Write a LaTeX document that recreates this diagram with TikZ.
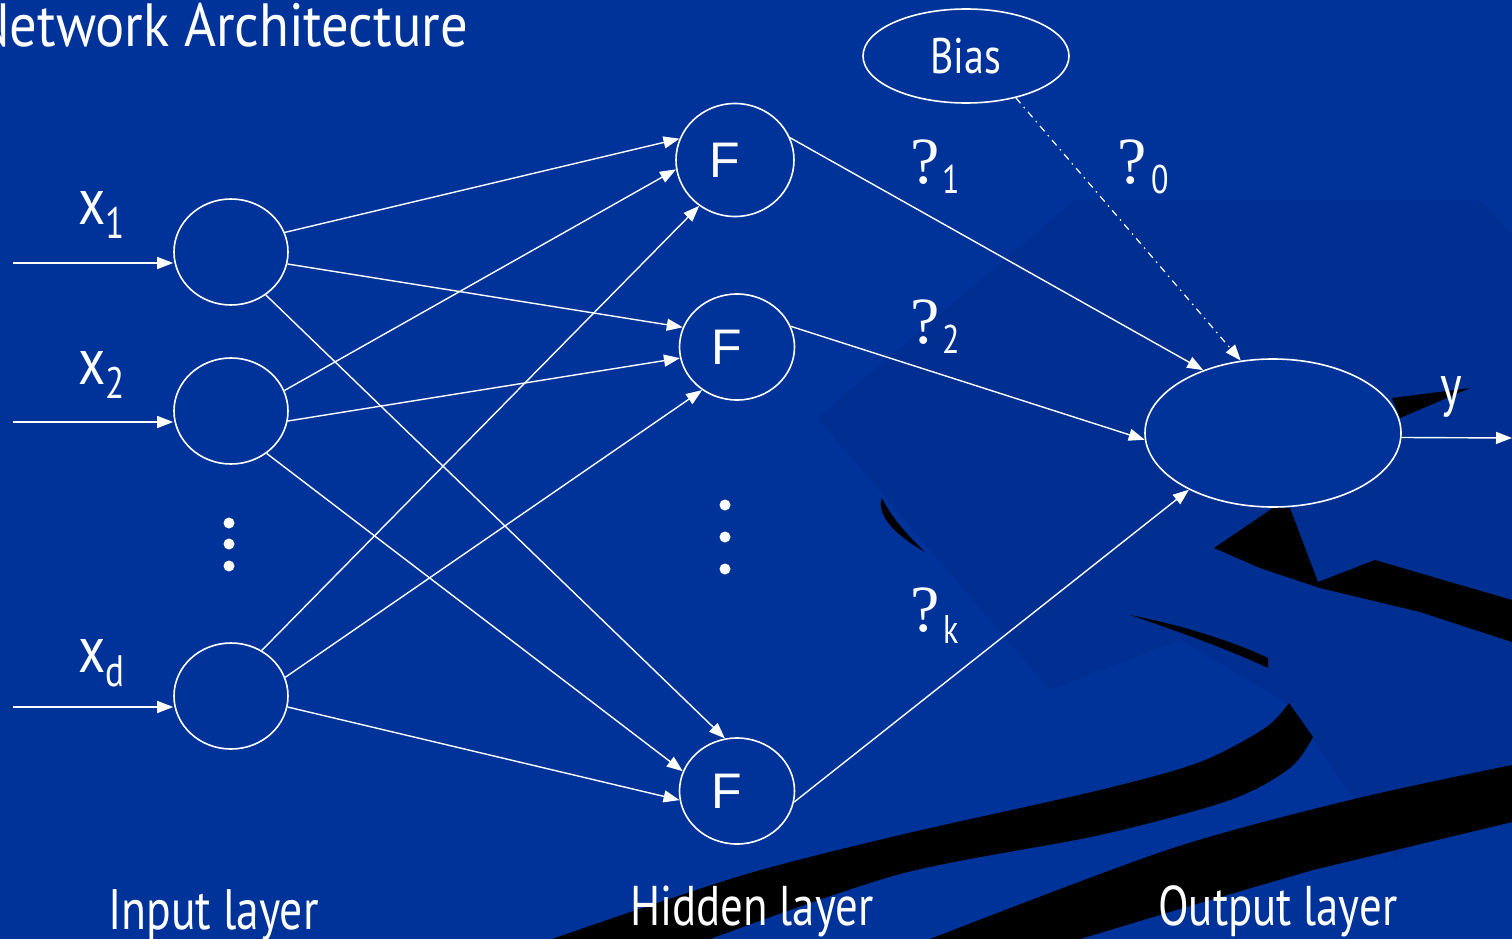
\documentclass[tikz,border=0pt]{standalone}
\usepackage{fontspec}
\setmainfont{PT Sans}
\newfontfamily\cnd[FakeStretch=0.8]{PT Sans}
\newfontfamily\ttl[FakeStretch=0.895]{PT Sans}
\newfontfamily\arl{Liberation Sans}
\newfontfamily\srf{Liberation Serif}
\usetikzlibrary{shapes.geometric,arrows.meta}
\definecolor{bg}{RGB}{0,51,153}
\definecolor{dk}{RGB}{0,47,145}
\begin{document}
\begin{tikzpicture}[x=1pt,y=-1pt,
  neuron/.style={ellipse,draw=white,line width=1.6pt,inner sep=0pt,text=white},
  conn/.style={white,line width=1.4pt,-{Triangle[length=16pt,width=12pt]}},
  lbl/.style={text=white,inner sep=0pt},
  dotmark/.style={white},
]
\useasboundingbox (0,0) rectangle (1512,939);
\clip (0,0) rectangle (1512,939);
\fill[bg] (0,0) rectangle (1512,939);
% decorative background
\fill[dk] (817,418) -- (1075,200) -- (1480,200) -- (1512,235) -- (1512,760) -- (1395,860) -- (1290,705) -- (1180,640) -- (1050,690) -- cycle;
\fill[black] plot[smooth] coordinates {(552,939) (740,876) (900,835) (1100,790) (1200,762) (1265,728) (1289,703)}
  -- plot[smooth] coordinates {(1313,737) (1290,768) (1230,800) (1100,835) (900,874) (710,939)} -- cycle;
\fill[black] plot[smooth] coordinates {(930,939) (1167,850) (1350,800) (1512,765)}
  -- (1512,822) -- plot[smooth] coordinates {(1313,870) (1200,903) (1080,939)} -- cycle;
\fill[black] (1214,548) -- (1273,508) -- (1290,508) -- (1318,582) -- (1375,560) -- (1450,582) -- (1512,600) -- (1512,642) -- (1420,612) -- (1320,588) -- (1260,568) -- cycle;
\fill[black] (1392,398) -- (1470,388) -- (1400,418) -- cycle;
\fill[black] (882,498) .. controls (876,515) and (895,535) .. (925,552) .. controls (905,533) and (890,515) .. (882,498) -- cycle;
\fill[black] (1130,615) .. controls (1180,625) and (1230,640) .. (1268,658) -- (1268,668) .. controls (1230,650) and (1180,632) .. (1130,615) -- cycle;

% title
\node[lbl,anchor=base east] (title) at (468,47) {\ttl\fontsize{61}{61}\selectfont Network Architecture};

% input layer
\node[neuron,minimum width=114pt,minimum height=106pt] (i1) at (231,252) {};
\node[neuron,minimum width=114pt,minimum height=106pt] (i2) at (231,411) {};
\node[neuron,minimum width=114pt,minimum height=106pt] (i3) at (231,696) {};
% hidden layer
\node[neuron,minimum width=118pt,minimum height=113pt] (h1) at (735,160) {\arl\fontsize{50}{50}\selectfont F\hspace*{20pt}};
\node[neuron,minimum width=115pt,minimum height=106pt] (h2) at (737,347) {\arl\fontsize{50}{50}\selectfont F\hspace*{20pt}};
\node[neuron,minimum width=115pt,minimum height=106pt] (h3) at (737,791) {\arl\fontsize{50}{50}\selectfont F\hspace*{20pt}};
% output and bias
\node[neuron,fill=bg,minimum width=256pt,minimum height=148pt] (out) at (1273,433) {};
\node[neuron,fill=bg,minimum width=206pt,minimum height=94pt] (bias) at (966,56) {\cnd\fontsize{50}{50}\selectfont Bias};

% input arrows
\coordinate (s1) at (13,263);
\coordinate (s2) at (13,422);
\coordinate (s3) at (13,707);
\coordinate (yend) at (1512,438);
\draw[conn] (s1) -- (i1.west |- s1);
\draw[conn] (s2) -- (i2.west |- s2);
\draw[conn] (s3) -- (i3.west |- s3);

% input -> hidden
\draw[conn] (i1.20) -- (h1.159);
\draw[conn] (i1.-12) -- (h2.160);
\draw[conn] (i1.-51) -- (h3.103);
\draw[conn] (i2.21) -- (h1.189);
\draw[conn] (i2.-10) -- (h2.191);
\draw[conn] (i2.-50) -- (h3.160);
\draw[conn] (i3.56) -- (h1.232);
\draw[conn] (i3.19) -- (h2.231);
\draw[conn] (i3.-11) -- (h3.189);
% hidden -> output
\draw[conn] (h1.22) -- (out.138);
\draw[conn] (h2.21) -- (out.183);
\draw[conn] (h3.-11) -- (out.214);
\draw[conn,line width=1.2pt,dash pattern=on 7pt off 5pt on 1.5pt off 5pt] (bias.-40) -- (out.114);
\draw[conn] (out.-2) -- (yend);

% dots
\fill[dotmark] (229,523) circle (5.5pt) (229,544) circle (5.5pt) (229,566) circle (5.5pt);
\fill[dotmark] (725,505) circle (5.5pt) (725,537) circle (5.5pt) (725,569) circle (5.5pt);

% input labels
\node[lbl,anchor=base west] (lx1) at (78,224) {\cnd\fontsize{66}{66}\selectfont x\raisebox{-14pt}{\fontsize{44}{44}\selectfont 1}};
\node[lbl,anchor=base west] (lx2) at (78,384) {\cnd\fontsize{66}{66}\selectfont x\raisebox{-14pt}{\fontsize{44}{44}\selectfont 2}};
\node[lbl,anchor=base west] (lxd) at (78,672) {\cnd\fontsize{66}{66}\selectfont x\raisebox{-14pt}{\fontsize{44}{44}\selectfont d}};
\node[lbl,anchor=base west] (ly) at (1440,405) {\cnd\fontsize{58}{58}\selectfont y};

% weight labels
\node[lbl,anchor=base west] (q1) at (910,183) {\srf\fontsize{66}{66}\selectfont ?};
\node[lbl,anchor=base west] (n1) at (942,193) {\cnd\fontsize{40}{40}\selectfont 1};
\node[lbl,anchor=base west] (q2) at (910,343) {\srf\fontsize{66}{66}\selectfont ?};
\node[lbl,anchor=base west] (n2) at (942,353) {\cnd\fontsize{40}{40}\selectfont 2};
\node[lbl,anchor=base west] (qk) at (910,631) {\srf\fontsize{66}{66}\selectfont ?};
\node[lbl,anchor=base west] (nk) at (943,643) {\cnd\fontsize{40}{40}\selectfont k};
\node[lbl,anchor=base west] (q0) at (1117,183) {\srf\fontsize{66}{66}\selectfont ?};
\node[lbl,anchor=base west] (n0) at (1151,193) {\cnd\fontsize{40}{40}\selectfont 0};

% layer labels
\node[lbl,anchor=base west] (lin) at (108,929) {\cnd\fontsize{57}{57}\selectfont Input layer};
\node[lbl,anchor=base west] (lhid) at (630,925) {\cnd\fontsize{56}{56}\selectfont Hidden layer};
\node[lbl,anchor=base west] (lout) at (1158,925) {\cnd\fontsize{56}{56}\selectfont Output layer};
\end{tikzpicture}
\end{document}
